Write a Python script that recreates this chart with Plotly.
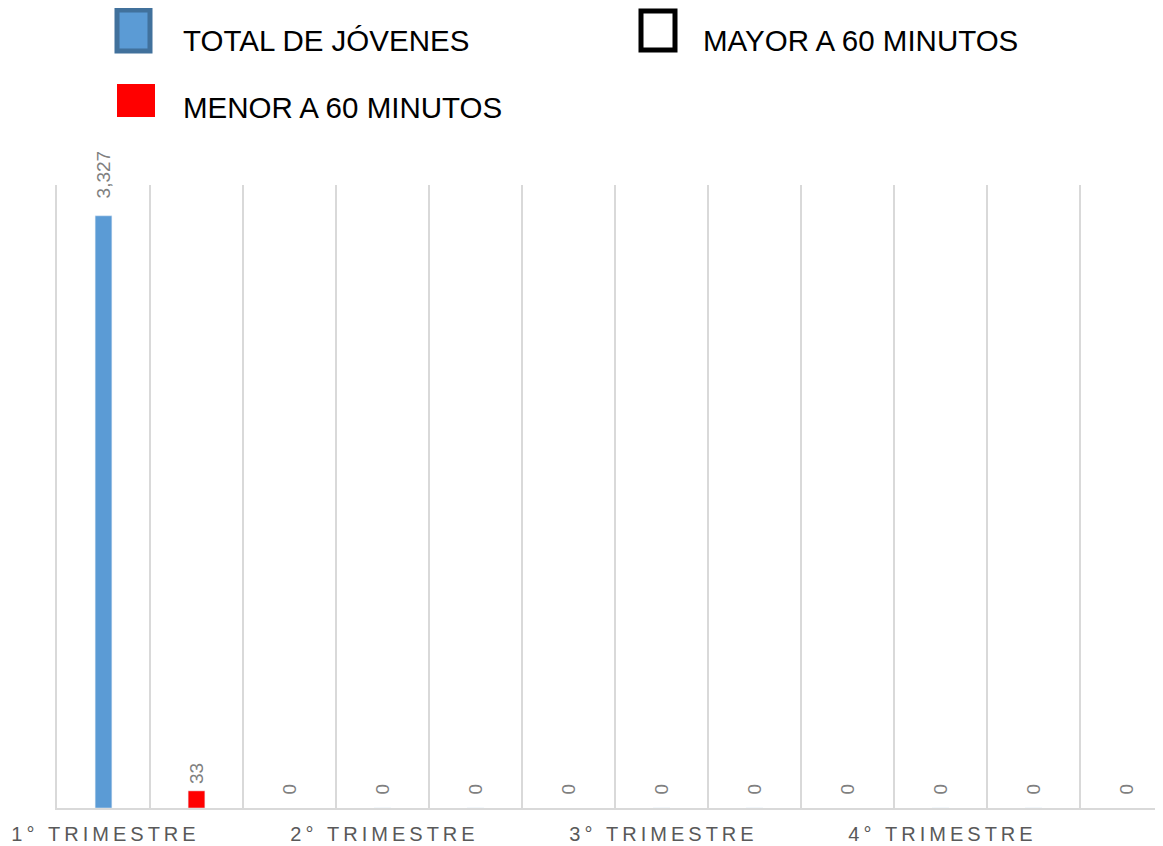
import plotly.graph_objects as go

# data
trimestres = ["1° TRIMESTRE", "2° TRIMESTRE", "3° TRIMESTRE", "4° TRIMESTRE"]
total_jovenes = [3327, 0, 0, 0]
menor_60 = [33, 0, 0, 0]
mayor_60 = [0, 0, 0, 0]

# the page puts the figure 8px in from the corner, so work in page pixels
PAGE_OFF = 8
W, H = 1163 - PAGE_OFF, 846 - PAGE_OFF
PLOT_X0, PLOT_X1, PLOT_Y0, PLOT_Y1 = 57, 1161, 185, 808  # page pixels
L, T = PLOT_X0 - PAGE_OFF, PLOT_Y0 - PAGE_OFF
R, B = W - (PLOT_X1 - PAGE_OFF), H - (PLOT_Y1 - PAGE_OFF)
PW, PH = PLOT_X1 - PLOT_X0, PLOT_Y1 - PLOT_Y0

FONT = "Liberation Sans, Arial, sans-serif"
BLUE, BLUE_EDGE, RED = "#5B9BD5", "#41719C", "#FF0000"
GRID = "#D9D9D9"
KINDS = ("total", "menor", "mayor")


def slot(t, kind):
    return t + "|" + kind


def spaced(s):
    # Excel-style expanded character spacing
    return "\u2009".join(s)


def px(x):
    return (x - PLOT_X0) / PW


def py(y):
    return (PLOT_Y1 - y) / PH


slots = [slot(t, k) for t in trimestres for k in KINDS]
slot_labels = [spaced(t) if k == "total" else "" for t in trimestres for k in KINDS]
x_range = [-0.5, -0.5 + PW / 93.0]

# blank space between bar end and its label (Excel offsets)
PAD_BIG, PAD_ZERO, PAD_SMALL = "\u2007\u2009", "\u2007", "\u2009"


def label_style(pads):
    return dict(
        textposition="outside",
        textangle=-90,
        texttemplate=[p + "%{y:,}" for p in pads],
        textfont=dict(family=FONT, size=19, color="#7F7F7F"),
        constraintext="none",
        cliponaxis=False,
        width=0.18,
        showlegend=False,
        hoverinfo="skip",
    )


fig = go.Figure()
fig.add_trace(
    go.Bar(
        x=[slot(t, "total") for t in trimestres],
        y=total_jovenes,
        name="TOTAL DE JÓVENES",
        marker_color=BLUE,
        **label_style([PAD_BIG if v else PAD_ZERO for v in total_jovenes]),
    )
)
fig.add_trace(
    go.Bar(
        x=[slot(t, "menor") for t in trimestres],
        y=menor_60,
        name="MENOR A 60 MINUTOS",
        marker_color=RED,
        yaxis="y2",
        **label_style([PAD_SMALL if v else PAD_ZERO for v in menor_60]),
    )
)
fig.add_trace(
    go.Bar(
        x=[slot(t, "mayor") for t in trimestres],
        y=mayor_60,
        name="MAYOR A 60 MINUTOS",
        marker=dict(color="white", line=dict(width=0)),
        **label_style([PAD_BIG if v else PAD_ZERO for v in mayor_60]),
    )
)

# hand-made legend (big swatches like the original)
legend_items = [
    ("TOTAL DE JÓVENES", (117, 10, 150, 51), BLUE, BLUE_EDGE, 5, 181, 40),
    ("MAYOR A 60 MINUTOS", (641, 11, 675, 50), "white", "black", 5, 701, 40),
    ("MENOR A 60 MINUTOS", (117, 84, 155, 117), RED, RED, 0, 181, 107),
]
for text, (x0, y0, x1, y1), fill, edge, lw, tx, ty in legend_items:
    fig.add_shape(
        type="rect",
        xref="paper", yref="paper",
        x0=px(x0), x1=px(x1), y0=py(y1), y1=py(y0),
        fillcolor=fill,
        line=dict(color=edge, width=lw),
    )
    fig.add_annotation(
        text=text,
        xref="paper", yref="paper",
        x=px(tx), y=py(ty),
        xanchor="left", yanchor="middle",
        showarrow=False,
        font=dict(family=FONT, size=29.5, color="black"),
    )

fig.update_layout(
    width=W,
    height=H,
    margin=dict(l=L, r=R, t=T, b=B),
    paper_bgcolor="white",
    plot_bgcolor="white",
    barmode="overlay",
    showlegend=False,
    font=dict(family=FONT),
    xaxis=dict(
        type="category",
        categoryorder="array",
        categoryarray=slots,
        range=x_range,
        tickmode="array",
        tickvals=slots,
        ticktext=slot_labels,
        tickson="boundaries",
        tickangle=0,
        automargin=False,
        tickfont=dict(family=FONT, size=20, color="#595959"),
        ticklabelstandoff=7,
        showgrid=True,
        gridcolor=GRID,
        gridwidth=2,
        showline=True,
        linecolor=GRID,
        linewidth=2,
        ticks="",
        zeroline=False,
    ),
    yaxis=dict(
        range=[0, 3500],
        automargin=False,
        showline=True,
        linecolor=GRID,
        linewidth=2,
        showgrid=False,
        zeroline=False,
        showticklabels=False,
        ticks="",
    ),
    yaxis2=dict(overlaying="y", range=[0, 1200], visible=False),
)

fig.write_html("out.html")
